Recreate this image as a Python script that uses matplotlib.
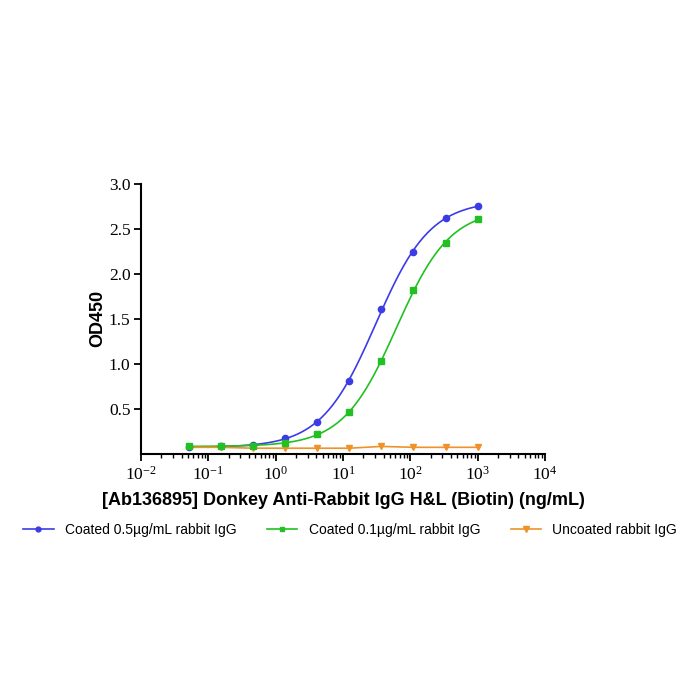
import numpy as np
import matplotlib.pyplot as plt
from matplotlib.ticker import LogLocator, NullFormatter, FixedLocator

# serial 3-fold dilution (ng/mL)
conc = [1000, 333.3, 111.1, 37.04, 12.35, 4.115, 1.372, 0.4572, 0.1524, 0.0508]
od_coated_05 = [2.76, 2.62, 2.24, 1.61, 0.81, 0.35, 0.17, 0.10, 0.08, 0.07]
od_coated_01 = [2.61, 2.34, 1.82, 1.03, 0.46, 0.22, 0.12, 0.09, 0.08, 0.08]
od_uncoated = [0.07, 0.07, 0.07, 0.08, 0.06, 0.06, 0.06, 0.06, 0.07, 0.07]

labels = ['Coated 0.5µg/mL rabbit IgG', 'Coated 0.1µg/mL rabbit IgG', 'Uncoated rabbit IgG']
colors = ['#3c3ce6', '#22c022', '#f0922a']


def fourpl(x, p):
    bottom, top, ec50, hill = p
    return bottom + (top - bottom) / (1 + (ec50 / x) ** hill)


def fit_4pl(x, y, p0):
    # simple Gauss-Newton with numeric jacobian
    x = np.asarray(x, float)
    y = np.asarray(y, float)
    p = np.array(p0, float)
    for _ in range(200):
        r = y - fourpl(x, p)
        J = np.zeros((len(x), 4))
        for k in range(4):
            dp = np.zeros(4)
            dp[k] = 1e-6 * max(abs(p[k]), 1e-3)
            J[:, k] = (fourpl(x, p + dp) - fourpl(x, p)) / dp[k]
        step = np.linalg.lstsq(J.T @ J + 1e-3 * np.eye(4), J.T @ r, rcond=None)[0]
        p = p + step
        if np.max(np.abs(step)) < 1e-9:
            break
    return p


plt.rcParams['font.family'] = 'Liberation Serif'
plt.rcParams['mathtext.fontset'] = 'custom'
plt.rcParams['mathtext.rm'] = 'Liberation Serif'

fig = plt.figure(figsize=(7, 7), dpi=100)
ax = fig.add_axes([0.2014, 0.352, 0.5772, 0.385])

xs = np.logspace(np.log10(conc[-1]), np.log10(conc[0]), 300)
handles = []
for ys, col, mk, lab, p0 in [(od_coated_05, colors[0], 'o', labels[0], [0.07, 2.9, 25, 1.1]),
                             (od_coated_01, colors[1], 's', labels[1], [0.08, 2.8, 60, 1.1])]:
    p = fit_4pl(conc, ys, p0)
    ax.plot(xs, fourpl(xs, p), color=col, lw=1.2)
    ax.plot(conc, ys, mk, color=col, ms=4.5, zorder=3)
    h, = ax.plot([], [], color=col, marker=mk, ms=3.5, lw=1.2, label=lab)
    handles.append(h)

h, = ax.plot(conc, od_uncoated, color=colors[2], marker='v', ms=4.5, lw=1.2, label=labels[2])
handles.append(h)

ax.set_xscale('log')
ax.set_xlim(1e-2, 1e4)
ax.set_ylim(0, 3.0)
ax.yaxis.set_major_locator(FixedLocator([0.5, 1.0, 1.5, 2.0, 2.5, 3.0]))
ax.yaxis.set_major_formatter(plt.FuncFormatter(lambda v, _: f'{v:.1f}'))
ax.xaxis.set_major_locator(LogLocator(base=10, numticks=10))
ax.xaxis.set_minor_locator(LogLocator(base=10, subs=np.arange(2, 10), numticks=100))
ax.xaxis.set_minor_formatter(NullFormatter())

for s in ['top', 'right']:
    ax.spines[s].set_visible(False)
for s in ['left', 'bottom']:
    ax.spines[s].set_linewidth(1.5)
ax.tick_params(axis='both', which='major', length=5, width=1.3, labelsize=12.5, direction='out')
ax.tick_params(axis='y', which='major', pad=2.5)
ax.tick_params(axis='x', which='minor', length=3, width=1.0)

ax.set_ylabel('OD450', fontsize=13, fontweight='bold', family='Liberation Sans', labelpad=2)
ax.set_xlabel('[Ab136895] Donkey Anti-Rabbit IgG H&L (Biotin) (ng/mL)', fontsize=13,
              fontweight='bold', family='Liberation Sans', labelpad=6)

fig.legend(handles=handles, loc='center', bbox_to_anchor=(0.5, 0.243), ncol=3, frameon=False,
           prop={'family': 'Liberation Sans', 'size': 10}, handlelength=2.2, columnspacing=2.2)

fig.savefig('out.png', dpi=100)
